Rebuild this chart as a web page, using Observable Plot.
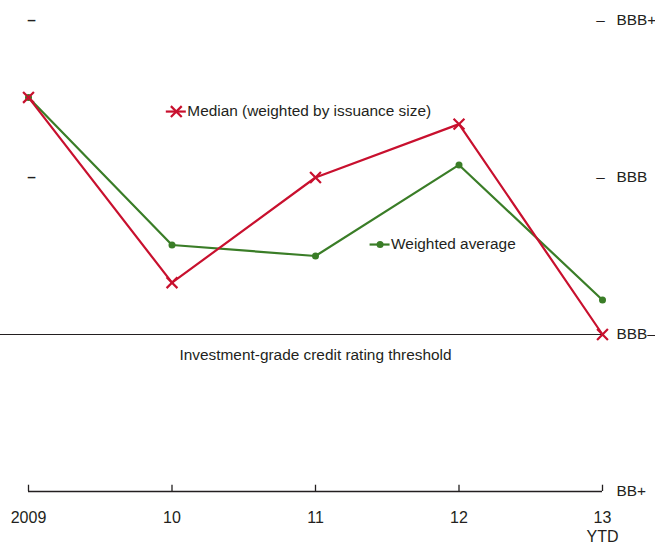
<!DOCTYPE html>
<html><head><meta charset="utf-8">
<script src="https://cdn.jsdelivr.net/npm/d3@7"></script>
<script src="https://cdn.jsdelivr.net/npm/@observablehq/plot@0.6"></script>
<style>
body{margin:0;background:#fff}
#chart svg{font-family:"Liberation Sans Narrow","Arial Narrow","Liberation Sans",sans-serif;}
</style>
</head><body><div id="chart"></div>
<script>
const years = [2009, 2010, 2011, 2012, 2013];
const yearLabels = ["2009", "10", "11", "12", "13\nYTD"];
const ratingValues = [0, 1, 2, 3];
const ratingLabels = ["BB+", "BBB–", "BBB", "BBB+"];
const dashRatings = [2, 3];
const medianValues = [2.51, 1.33, 2.0, 2.34, 1.0];
const weightedValues = [2.51, 1.57, 1.50, 2.08, 1.22];
const thresholdValue = 1;
const thresholdLabel = "Investment-grade credit rating threshold";
const thresholdLabelPos = [2011.0, 0.87];
const legendLabels = ["Median (weighted by issuance size)", "Weighted average"];
const legendX = [2010.03, 2011.45];
const legendY = [2.42, 1.573];

const RED = "#c8102e";
const GREEN = "#3a7d27";
const INK = "#231f20";
const FS = 15.4;

const median = years.map((x, i) => ({x, y: medianValues[i]}));
const weighted = years.map((x, i) => ({x, y: weightedValues[i]}));
const legend = legendLabels.map((label, i) => ({label, x: legendX[i], y: legendY[i]}));

const chart = Plot.plot({
  width: 655,
  height: 546,
  marginLeft: 28,
  marginRight: 53,
  marginTop: 20,
  marginBottom: 55,
  style: {fontSize: FS + "px", color: INK, background: "white"},
  x: {type: "linear", domain: [2009, 2013], label: null},
  y: {domain: [0, 3], label: null},
  marks: [
    // threshold line
    Plot.ruleY([thresholdValue], {stroke: INK, strokeWidth: 1, insetLeft: -28}),
    Plot.text([thresholdLabel], {x: thresholdLabelPos[0], y: thresholdLabelPos[1], text: d => d, fill: INK, fontSize: FS}),
    // bottom axis line and upward ticks
    Plot.ruleY([0], {stroke: INK, strokeWidth: 1.3}),
    Plot.ruleX(years, {x: d => d, y1: 0, y2: 0.04, stroke: INK, strokeWidth: 1.3}),
    Plot.axisX({ticks: years, tickSize: 0, tickPadding: 18, label: null, tickFormat: (d) => yearLabels[years.indexOf(d)], fontSize: 16, lineHeight: 1.2, fill: INK}),
    // right axis labels
    Plot.axisY({anchor: "right", ticks: ratingValues, tickSize: 0, tickPadding: 14, label: null, tickFormat: d => ratingLabels[ratingValues.indexOf(d)], textAnchor: "start", fontSize: FS, fill: INK}),
    // dash tick marks
    Plot.text(dashRatings, {x: 2009, y: d => d, text: () => "–", dx: 3, fill: INK, fontSize: FS, fontWeight: "bold"}),
    Plot.text(dashRatings, {x: 2013, y: d => d, text: () => "–", dx: -2, fill: INK, fontSize: FS}),
    // series
    Plot.line(weighted, {x: "x", y: "y", stroke: GREEN, strokeWidth: 2.2}),
    Plot.dot(weighted, {x: "x", y: "y", r: 3.5, fill: GREEN}),
    Plot.line(median, {x: "x", y: "y", stroke: RED, strokeWidth: 2.2}),
    Plot.dot(median, {x: "x", y: "y", symbol: "times", r: 5, stroke: RED, strokeWidth: 2.2}),
    // legend keys
    Plot.ruleY([legend[0]], {y: "y", x1: "x", x2: "x", insetLeft: -10, insetRight: -10, stroke: RED, strokeWidth: 2.2}),
    Plot.dot([legend[0]], {x: "x", y: "y", symbol: "times", r: 5, stroke: RED, strokeWidth: 2.2}),
    Plot.ruleY([legend[1]], {y: "y", x1: "x", x2: "x", insetLeft: -10, insetRight: -10, stroke: GREEN, strokeWidth: 2.2}),
    Plot.dot([legend[1]], {x: "x", y: "y", r: 3.5, fill: GREEN}),
    Plot.text(legend, {x: "x", y: "y", text: "label", dx: 11, textAnchor: "start", fill: INK, fontSize: FS})
  ]
});
document.getElementById("chart").append(chart);
</script>
</body></html>
